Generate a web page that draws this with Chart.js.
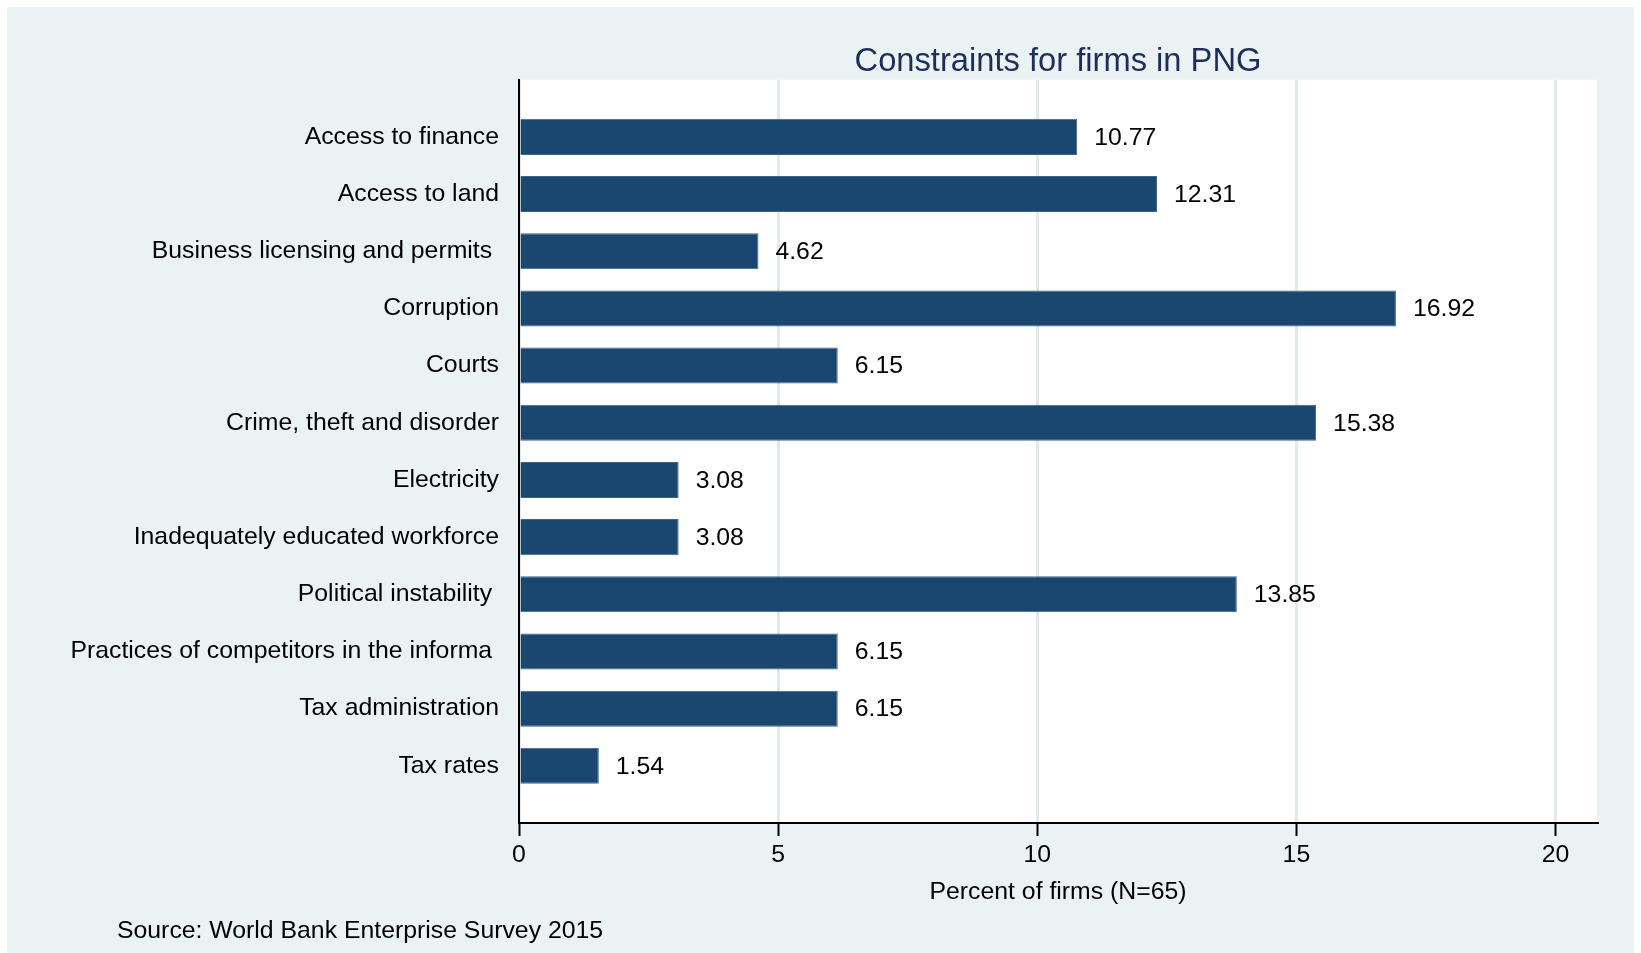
<!DOCTYPE html>
<html>
<head>
<meta charset="utf-8">
<script src="https://cdn.jsdelivr.net/npm/chart.js@4"></script>
<style>
  body { margin: 0; background: #fff; }
  #wrap { position: absolute; left: 7px; top: 7px; width: 1627px; height: 946px; background: #EAF2F3; }
</style>
</head>
<body>
<div id="wrap"><canvas id="myChart" width="1627" height="946"></canvas></div>
<script>
// Categories and values
const categories = [
  "Access to finance",
  "Access to land",
  "Business licensing and permits ",
  "Corruption",
  "Courts",
  "Crime, theft and disorder",
  "Electricity",
  "Inadequately educated workforce",
  "Political instability ",
  "Practices of competitors in the informa ",
  "Tax administration",
  "Tax rates",
];
const values = [10.77, 12.31, 4.62, 16.92, 6.15, 15.38, 3.08, 3.08, 13.85, 6.15, 6.15, 1.54];
const xTicks = [0, 5, 10, 15, 20];

const FONT = "'Liberation Sans', Arial, sans-serif";
const TXT = 24.8;

// empty slots at both ends give the gap above the first and below the last bar
const labels = ["", ...categories, ""];
const barData = [null, ...values, null];

// white plot region
const plotBg = {
  id: "plotBg",
  beforeDraw(chart) {
    const { ctx, chartArea: a } = chart;
    ctx.save();
    ctx.fillStyle = "#fff";
    ctx.fillRect(a.left, a.top, a.right - a.left, a.bottom - a.top);
    ctx.restore();
  },
};

// value labels right of each bar, plus the source note
const barLabels = {
  id: "barLabels",
  afterDatasetsDraw(chart) {
    const ctx = chart.ctx;
    ctx.save();
    ctx.font = TXT + "px " + FONT;
    ctx.fillStyle = "#000";
    ctx.textAlign = "left";
    ctx.textBaseline = "middle";
    chart.getDatasetMeta(0).data.forEach((bar, i) => {
      const v = barData[i];
      if (v === null) return;
      ctx.fillText(v.toFixed(2), bar.x + 17, bar.y + 1);
    });
    ctx.textBaseline = "alphabetic";
    ctx.fillText("Source: World Bank Enterprise Survey 2015", 110, 931);
    ctx.restore();
  },
};

const config = {
  type: "bar",
  data: {
    labels: labels,
    datasets: [
      {
        data: barData,
        backgroundColor: "#1A476F",
        borderColor: "#3F6387",
        borderWidth: 1,
        borderSkipped: "start",
        barPercentage: 0.63,
        categoryPercentage: 1,
      },
    ],
  },
  options: {
    indexAxis: "y",
    responsive: false,
    animation: false,
    layout: { padding: { left: 0, right: 37, top: 0, bottom: 0 } },
    scales: {
      x: {
        min: 0,
        max: 20.8,
        afterFit(scale) { scale.height = 130; },
        afterBuildTicks(scale) { scale.ticks = xTicks.map((v) => ({ value: v })); },
        ticks: {
          color: "#000",
          font: { family: FONT, size: TXT },
          padding: 4,
          maxRotation: 0,
        },
        grid: {
          color: "#E1EBEE",
          lineWidth: 3,
          tickColor: "#000",
          tickWidth: 2,
          tickLength: 13,
        },
        border: { display: true, color: "#000", width: 2 },
        title: {
          display: true,
          text: "Percent of firms (N=65)",
          color: "#000",
          font: { family: FONT, size: TXT },
          padding: { top: 0, bottom: 46 },
        },
      },
      y: {
        type: "category",
        offset: false,
        afterFit(scale) { scale.width = 512; },
        ticks: {
          color: "#000",
          font: { family: FONT, size: TXT },
          padding: 20,
          autoSkip: false,
        },
        grid: { display: false, drawTicks: false },
        border: { display: true, color: "#000", width: 2 },
      },
    },
    plugins: {
      legend: { display: false },
      tooltip: { enabled: false },
      title: {
        display: true,
        fullSize: false,
        text: "Constraints for firms in PNG",
        color: "#1E2E5B",
        font: { family: FONT, size: 32.7, weight: "normal", lineHeight: 1 },
        padding: { top: 39, bottom: 1 },
      },
    },
  },
  plugins: [plotBg, barLabels],
};

const myChart = new Chart(document.getElementById("myChart").getContext("2d"), config);
</script>
</body>
</html>
